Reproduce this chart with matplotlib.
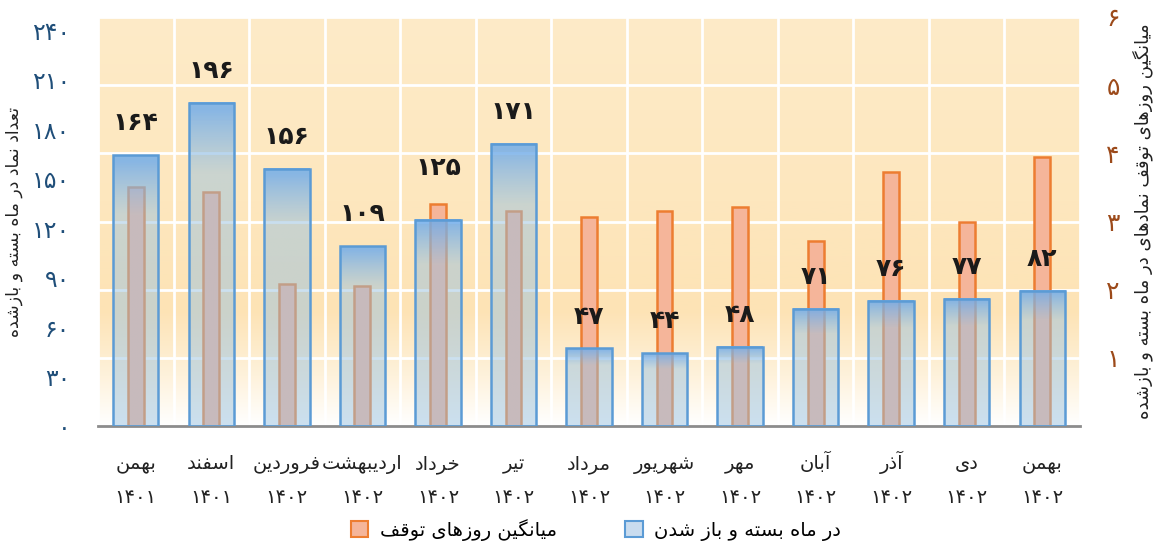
import numpy as np
import matplotlib
matplotlib.use('Agg')
import matplotlib.pyplot as plt
import matplotlib.transforms as mtransforms
from matplotlib.patches import Patch
from matplotlib.colors import LinearSegmentedColormap, to_rgba
from matplotlib.ticker import FuncFormatter, FixedLocator

# داده ها
months = ['بهمن', 'اسفند', 'فروردین', 'اردیبهشت', 'خرداد', 'تیر', 'مرداد',
          'شهریور', 'مهر', 'آبان', 'آذر', 'دی', 'بهمن']
years = ['1401', '1401', '1402', '1402', '1402', '1402', '1402',
         '1402', '1402', '1402', '1402', '1402', '1402']
symbols_count = [164, 196, 156, 109, 125, 171, 47, 44, 48, 71, 76, 77, 82]
halt_days = [3.50, 3.43, 2.09, 2.06, 3.26, 3.15, 3.07, 3.15, 3.21, 2.72, 3.73, 2.99, 3.95]

left_label = 'تعداد نماد در ماه بسته و بازشده'
right_label = 'میانگین روزهای توقف نمادهای در ماه بسته و بازشده'
legend_orange = 'میانگین روزهای توقف'
legend_blue = 'در ماه بسته و باز شدن'

# شکل دهی حروف فارسی (matplotlib اتصال حروف را انجام نمی دهد)
# (isolated, final, initial, medial)
FORMS = {
    'ا': ('\uFE8D', '\uFE8E', None, None),
    'آ': ('\uFE81', '\uFE82', None, None),
    'ب': ('\uFE8F', '\uFE90', '\uFE91', '\uFE92'),
    'پ': ('\uFB56', '\uFB57', '\uFB58', '\uFB59'),
    'ت': ('\uFE95', '\uFE96', '\uFE97', '\uFE98'),
    'خ': ('\uFEA5', '\uFEA6', '\uFEA7', '\uFEA8'),
    'د': ('\uFEA9', '\uFEAA', None, None),
    'ذ': ('\uFEAB', '\uFEAC', None, None),
    'ر': ('\uFEAD', '\uFEAE', None, None),
    'ز': ('\uFEAF', '\uFEB0', None, None),
    'س': ('\uFEB1', '\uFEB2', '\uFEB3', '\uFEB4'),
    'ش': ('\uFEB5', '\uFEB6', '\uFEB7', '\uFEB8'),
    'ع': ('\uFEC9', '\uFECA', '\uFECB', '\uFECC'),
    'ف': ('\uFED1', '\uFED2', '\uFED3', '\uFED4'),
    'ق': ('\uFED5', '\uFED6', '\uFED7', '\uFED8'),
    'گ': ('\uFB92', '\uFB93', '\uFB94', '\uFB95'),
    'م': ('\uFEE1', '\uFEE2', '\uFEE3', '\uFEE4'),
    'ن': ('\uFEE5', '\uFEE6', '\uFEE7', '\uFEE8'),
    'و': ('\uFEED', '\uFEEE', None, None),
    'ه': ('\uFEE9', '\uFEEA', '\uFEEB', '\uFEEC'),
    'ی': ('\uFBFC', '\uFBFD', '\uFBFE', '\uFBFF'),
}
FA_DIGITS = str.maketrans('0123456789', '۰۱۲۳۴۵۶۷۸۹')


def fa(text):
    chars = list(text)
    out = []
    for i, c in enumerate(chars):
        if c not in FORMS:
            out.append(c)
            continue
        prev = chars[i - 1] if i > 0 else None
        nxt = chars[i + 1] if i + 1 < len(chars) else None
        join_prev = prev in FORMS and FORMS[prev][2] is not None
        join_next = nxt in FORMS and FORMS[c][2] is not None
        iso, fin, ini, med = FORMS[c]
        if join_prev and join_next:
            out.append(med)
        elif join_prev:
            out.append(fin)
        elif join_next:
            out.append(ini)
        else:
            out.append(iso)
    return ''.join(out)[::-1]


def fnum(v):
    return str(v).translate(FA_DIGITS)


plt.rcParams['font.family'] = ['DejaVu Sans']

fig = plt.figure(figsize=(11.62, 5.48), dpi=100)
ax = fig.add_axes([98 / 1162, 1 - 426 / 548, 982 / 1162, 409 / 548])
ax2 = ax.twinx()

x = np.arange(len(months))

# پس زمینه گرادیان
bg = LinearSegmentedColormap.from_list('bg', [(0, '#ffffff'), (0.12, '#fef2dc'),
                                              (0.28, '#fde3b5'), (0.55, '#fde7be'),
                                              (1, '#feebc8')])
ax.imshow(np.linspace(0, 1, 256).reshape(-1, 1), cmap=bg, origin='lower',
          extent=[0, 1, 0, 1], transform=ax.transAxes, aspect='auto', zorder=0)

# میله های نارنجی (محور راست)
ax.bar(x, halt_days, width=0.21, color='#f5b59a', edgecolor='#ed7d31',
       linewidth=1.8, zorder=2)

# میله های آبی با گرادیان (محور چپ)
top_c = np.array(to_rgba((0.45, 0.68, 0.92), 0.85))
base_c = np.array(to_rgba((0.60, 0.76, 0.88), 0.5))
n = 200
t = np.linspace(0, 1, n)
mix = np.clip((t - 0.78) / 0.20, 0, 1)[:, None]
grad = (base_c * (1 - mix) + top_c * mix).reshape(n, 1, 4)
bw = 0.6
for xi, h in zip(x, symbols_count):
    ax2.imshow(grad, origin='lower', extent=[xi - bw / 2, xi + bw / 2, 0, h],
               aspect='auto', interpolation='bilinear', zorder=2)
ax2.bar(x, symbols_count, width=bw, facecolor='none', edgecolor='#5b9bd5',
        linewidth=1.8, zorder=3)

lift = [23] * len(x)
lift[4] = 37
for xi, h, lf in zip(x, symbols_count, lift):
    ax2.annotate(fnum(h), (xi, h), xytext=(0, lf), textcoords='offset points',
                 ha='center', va='center', fontsize=18, fontweight='bold',
                 color='#1a1a1a', zorder=5)

# محورها
ax.set_xlim(-0.5, len(x) - 0.5)
ax2.set_xlim(-0.5, len(x) - 0.5)
ax.set_ylim(0, 6)
ax2.set_ylim(0, 247.9)
ax.set_aspect('auto')
ax2.set_aspect('auto')

ax.set_xticks(x)
ax.set_xticklabels([fa(m) for m in months], fontsize=14, color='#222222')
for lab in ax.get_xticklabels():
    lab.set_verticalalignment('baseline')
ax.xaxis.set_minor_locator(FixedLocator(np.arange(-0.5, len(x), 1)))
ax.tick_params(axis='x', which='both', length=0, pad=31)

trans = mtransforms.blended_transform_factory(ax.transData, ax.transAxes)
for xi, y in zip(x, years):
    ax.text(xi, -(503 - 426) / 409, fnum(y), transform=trans, ha='center',
            va='baseline', fontsize=14, color='#222222')

ax.yaxis.tick_right()
ax.yaxis.set_label_position('right')
ax.set_yticks(np.arange(0, 7))
ax.yaxis.set_major_formatter(FuncFormatter(lambda v, p: fnum(int(v)) if v > 0 else ''))
ax.tick_params(axis='y', length=0, pad=19, labelsize=18, labelcolor='#9c4a1a')

ax2.yaxis.tick_left()
ax2.yaxis.set_label_position('left')
ax2.set_yticks(np.arange(0, 241, 30))
ax2.yaxis.set_major_formatter(FuncFormatter(lambda v, p: fnum(int(v))))
ax2.tick_params(axis='y', length=0, pad=20, labelsize=17, labelcolor='#1f4e79')

ax.grid(axis='y', color='white', linewidth=2, zorder=1)
ax.grid(axis='x', which='minor', color='white', linewidth=2, zorder=1)
ax.set_axisbelow(True)

for a in (ax, ax2):
    for s in a.spines.values():
        s.set_visible(False)
ax.spines['bottom'].set_visible(True)
ax.spines['bottom'].set_color('#8c8c8c')
ax.spines['bottom'].set_linewidth(2)
ax.spines['bottom'].set_zorder(6)

ax2.set_ylabel(fa(left_label), fontsize=12.5, color='#222222')
ax2.yaxis.set_label_coords(-0.076, 0.5)
ax.set_ylabel(fa(right_label), fontsize=13, color='#222222')
ax.yaxis.set_label_coords(1.053, 0.5)

handles = [Patch(facecolor='#f5b59a', edgecolor='#ed7d31', linewidth=1.5),
           Patch(facecolor='#c9dcef', edgecolor='#5b9bd5', linewidth=1.5)]
fig.legend(handles, [fa(legend_orange), fa(legend_blue)], loc='center',
           bbox_to_anchor=(596 / 1162, 1 - 530 / 548), ncol=2, frameon=False,
           fontsize=14, handlelength=0.9, handleheight=0.9, columnspacing=3.5,
           handletextpad=0.6)

fig.savefig('out.png', dpi=100)
